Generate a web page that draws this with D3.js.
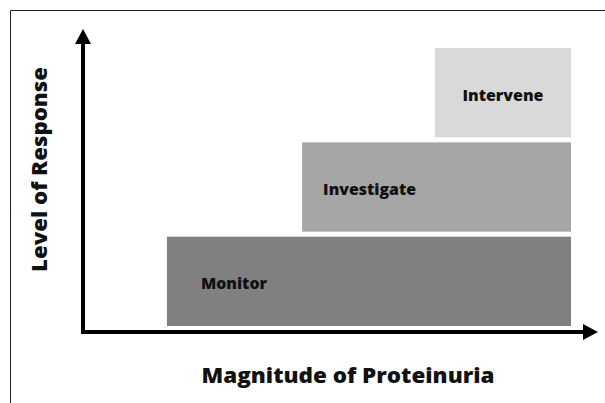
<!DOCTYPE html>
<html><head><meta charset="utf-8">
<script src="https://cdn.jsdelivr.net/npm/d3@7"></script>
<style>html,body{margin:0;padding:0;background:#fff;}svg{display:block;}</style>
</head><body>
<svg id="chart" width="605" height="403"></svg>
<script>
// Data
const categories = ["Monitor", "Investigate", "Intervene"];
const levels = [1, 2, 3];
const startMagnitude = [1.72, 4.49, 7.21];
const endMagnitude = [10, 10, 10];
const colors = ["#808080", "#a6a6a6", "#d9d9d9"];
const xTitle = "Magnitude of Proteinuria";
const yTitle = "Level of Response";

const svg = d3.select("#chart");
const font = "'Open Sans', sans-serif";

// frame lines (top and left)
svg.append("line").attr("x1", 10.5).attr("y1", 10.5).attr("x2", 605).attr("y2", 10.5)
  .attr("stroke", "#222").attr("stroke-width", 1);
svg.append("line").attr("x1", 10.5).attr("y1", 10.5).attr("x2", 10.5).attr("y2", 403)
  .attr("stroke", "#222").attr("stroke-width", 1);

const x = d3.scaleLinear().domain([0, 10]).range([83, 571]);
const y = d3.scaleBand().domain(levels).range([326, 48]).paddingInner(0.053).paddingOuter(0);

const data = categories.map((c, i) => ({ c, level: levels[i], s: startMagnitude[i], e: endMagnitude[i], color: colors[i] }));

svg.selectAll("rect.bar").data(data).join("rect")
  .attr("class", "bar")
  .attr("x", d => x(d.s))
  .attr("y", d => y(d.level))
  .attr("width", d => x(d.e) - x(d.s))
  .attr("height", y.bandwidth())
  .attr("fill", d => d.color);

// labels
const labelOffset = [34, 21, null]; // null => centered
const labelWidth = [66, 93, 81];
svg.selectAll("text.lbl").data(data).join("text")
  .attr("class", "lbl")
  .attr("x", (d, i) => labelOffset[i] === null ? (x(d.s) + x(d.e)) / 2 : x(d.s) + labelOffset[i])
  .attr("y", d => y(d.level) + y.bandwidth() / 2 + 8)
  .attr("text-anchor", (d, i) => labelOffset[i] === null ? "middle" : "start")
  .attr("font-family", font).attr("font-weight", 800).attr("font-size", 15.5)
  .attr("textLength", (d, i) => labelWidth[i]).attr("lengthAdjust", "spacingAndGlyphs")
  .attr("fill", "#111")
  .text(d => d.c);

// axes with arrows
const axisX0 = 83, axisY0 = 332;
svg.append("line").attr("x1", axisX0).attr("y1", axisY0 + 2).attr("x2", axisX0).attr("y2", 42)
  .attr("stroke", "#000").attr("stroke-width", 4);
svg.append("path").attr("d", `M${axisX0},29 L${axisX0 - 8},44 L${axisX0 + 8},44 Z`).attr("fill", "#000");
svg.append("line").attr("x1", axisX0 - 2).attr("y1", axisY0).attr("x2", 585).attr("y2", axisY0)
  .attr("stroke", "#000").attr("stroke-width", 4);
svg.append("path").attr("d", `M598,${axisY0} L583,${axisY0 - 8} L583,${axisY0 + 8} Z`).attr("fill", "#000");

// titles
svg.append("text").attr("x", 348).attr("y", 383)
  .attr("text-anchor", "middle")
  .attr("font-family", font).attr("font-weight", 800).attr("font-size", 21)
  .attr("textLength", 293).attr("lengthAdjust", "spacingAndGlyphs")
  .attr("fill", "#111").text(xTitle);
svg.append("text").attr("transform", "translate(47,169.5) rotate(-90)")
  .attr("text-anchor", "middle")
  .attr("font-family", font).attr("font-weight", 800).attr("font-size", 21)
  .attr("textLength", 205).attr("lengthAdjust", "spacingAndGlyphs")
  .attr("fill", "#111").text(yTitle);
</script>
</body></html>
